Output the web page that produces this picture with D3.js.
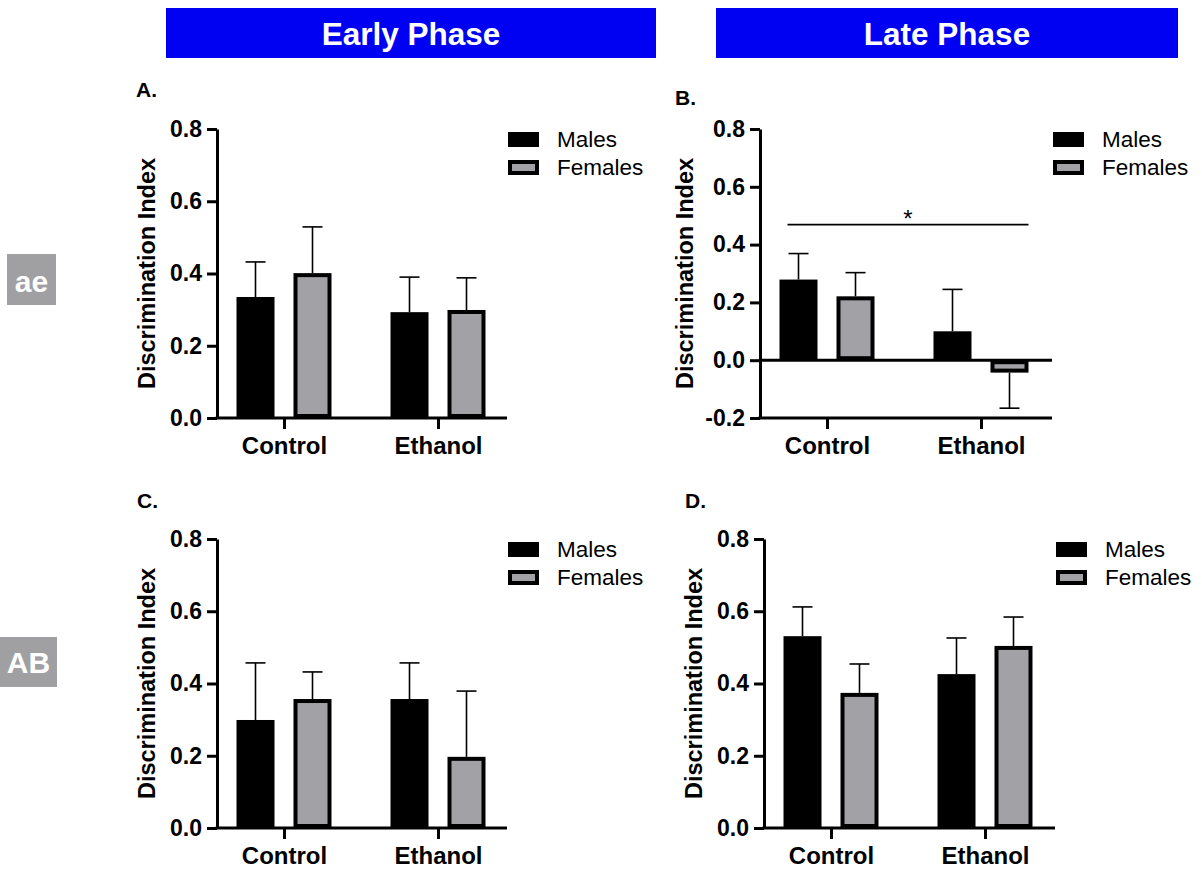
<!DOCTYPE html>
<html>
<head>
<meta charset="utf-8">
<script src="https://cdn.jsdelivr.net/npm/d3@7"></script>
<style>
  body { margin: 0; background: #fff; }
  svg { display: block; font-family: "Liberation Sans", Arial, sans-serif; }
</style>
</head>
<body>
<svg id="fig" width="1202" height="871"></svg>
<script>
const groups = ['Control', 'Ethanol'];
const sexes = ['Males', 'Females'];
const phases = ['Early Phase', 'Late Phase'];
const rowLabels = ['ae', 'AB'];

// order: Control Males, Control Females, Ethanol Males, Ethanol Females
const earlyAeMean = [0.335, 0.401, 0.293, 0.299];
const earlyAeSem  = [0.097, 0.128, 0.097, 0.089];
const lateAeMean  = [0.279, 0.221, 0.100, -0.043];
const lateAeSem   = [0.090, 0.082, 0.145, 0.123];
const earlyABMean = [0.299, 0.357, 0.357, 0.197];
const earlyABSem  = [0.158, 0.075, 0.100, 0.182];
const lateABMean  = [0.531, 0.374, 0.426, 0.504];
const lateABSem   = [0.081, 0.080, 0.100, 0.080];

const ticksPos = [0, 0.2, 0.4, 0.6, 0.8];
const ticksNeg = [-0.2, 0, 0.2, 0.4, 0.6, 0.8];

const fill = { Males: '#000', Females: '#a2a2a6' };

const svg = d3.select('#fig');

// phase headers
const headers = [
    { x: 166, w: 490 },
    { x: 716, w: 462 }
];
headers.forEach((hd, i) => {
    svg.append('rect').attr('x', hd.x).attr('y', 8).attr('width', hd.w).attr('height', 50)
        .attr('fill', '#0000f2');
    svg.append('text').attr('x', hd.x + hd.w / 2).attr('y', 45)
        .attr('text-anchor', 'middle').attr('fill', '#fff')
        .attr('font-size', 31.5).attr('font-weight', 'bold')
        .text(phases[i]);
});

// row labels
const rowBoxes = [
    { x: 7, y: 254, w: 49, h: 51, base: 292 },
    { x: 0, y: 637, w: 57, h: 50, base: 673 }
];
rowBoxes.forEach((b, i) => {
    svg.append('rect').attr('x', b.x).attr('y', b.y).attr('width', b.w).attr('height', b.h)
        .attr('fill', '#a0a0a3');
    svg.append('text').attr('x', b.x + b.w / 2).attr('y', b.base)
        .attr('text-anchor', 'middle').attr('fill', '#fff')
        .attr('font-size', 30).attr('font-weight', 'bold')
        .text(rowLabels[i]);
});

function drawPanel(o) {
    const g = svg.append('g');
    const y = d3.scaleLinear().domain(o.domain).range([o.yBot, o.yTop]);
    const x = d3.scalePoint().domain(groups).range([o.x0 + 67, o.x0 + 221]);
    const xSex = d3.scaleBand().domain(sexes).range([-47.5, 47.5]).paddingInner(1 / 3);
    const bw = xSex.bandwidth();

    const rows = o.means.map((m, i) => ({
        group: groups[Math.floor(i / 2)],
        sex: sexes[i % 2],
        mean: m,
        sem: o.sems[i]
    }));
    const errEnd = d => y(d.mean + (d.mean < 0 ? -d.sem : d.sem));

    // error bars (drawn first so the bar covers the stem)
    const err = g.selectAll('.err').data(rows).join('g')
        .attr('class', 'err')
        .attr('transform', d => `translate(${x(d.group) + xSex(d.sex) + bw / 2},0)`);
    err.append('line')
        .attr('y1', d => y(d.mean)).attr('y2', errEnd)
        .attr('stroke', '#000').attr('stroke-width', 1.6);
    err.append('line')
        .attr('x1', -10).attr('x2', 10)
        .attr('y1', errEnd).attr('y2', errEnd)
        .attr('stroke', '#000').attr('stroke-width', 1.6);

    g.selectAll('.bar').data(rows).join('rect')
        .attr('class', 'bar')
        .attr('x', d => x(d.group) + xSex(d.sex) + 2)
        .attr('width', bw - 4)
        .attr('y', d => Math.min(y(d.mean), y(0)) + 2)
        .attr('height', d => Math.max(0, Math.abs(y(d.mean) - y(0)) - 4))
        .attr('fill', d => fill[d.sex])
        .attr('stroke', '#000').attr('stroke-width', 4);

    // y axis
    g.append('g').attr('transform', `translate(${o.x0},0)`)
        .call(d3.axisLeft(y).tickValues(o.ticks).tickFormat(d => d.toFixed(1))
            .tickSize(10).tickSizeOuter(0).tickPadding(5))
        .call(a => {
            a.select('.domain').attr('stroke-width', 3);
            a.selectAll('.tick line').attr('stroke-width', 3);
            a.selectAll('.tick text').attr('font-size', 23).attr('font-weight', 'bold')
                .attr('fill', '#000').attr('font-family', null);
        });

    // x axis at the bottom of the y range
    const xa = g.append('g').attr('transform', `translate(0,${o.yBot})`)
        .call(d3.axisBottom(x).tickSize(11).tickSizeOuter(0).tickPadding(8))
        .call(a => {
            a.select('.domain').remove();
            a.selectAll('.tick line').attr('stroke-width', 3);
            a.selectAll('.tick text').attr('font-size', 24).attr('font-weight', 'bold')
                .attr('fill', '#000').attr('font-family', null);
        });
    xa.append('line').attr('x1', o.x0 - 1.5).attr('x2', o.x0 + o.width)
        .attr('stroke', '#000').attr('stroke-width', 3);

    if (o.domain[0] < 0) {
        g.append('line').attr('x1', o.x0).attr('x2', o.x0 + o.width)
            .attr('y1', y(0)).attr('y2', y(0))
            .attr('stroke', '#000').attr('stroke-width', 3);
    }

    if (o.sig) {
        const x1 = x(o.sig.from) + xSex('Males') + 8;
        const x2 = x(o.sig.to) + xSex('Females') + bw;
        const sy = y(o.sig.level);
        g.append('line').attr('x1', x1).attr('x2', x2).attr('y1', sy).attr('y2', sy)
            .attr('stroke', '#000').attr('stroke-width', 1.6);
        g.append('text').attr('x', (x1 + x2) / 2).attr('y', sy + 2)
            .attr('text-anchor', 'middle').attr('font-size', 24)
            .text(o.sig.label);
    }

    // y title
    g.append('text')
        .attr('transform', `translate(${o.x0 - o.titleOffset},${(o.yTop + o.yBot) / 2}) rotate(-90)`)
        .attr('text-anchor', 'middle').attr('font-size', 23.5).attr('font-weight', 'bold')
        .text('Discrimination Index');

    // panel letter
    g.append('text').attr('x', o.letterX).attr('y', o.letterY)
        .attr('font-size', 21).attr('font-weight', 'bold')
        .text(o.letter);

    // legend
    const lx = o.x0 + o.width + 1;
    const leg = g.selectAll('.leg').data(sexes).join('g')
        .attr('class', 'leg')
        .attr('transform', (d, i) => `translate(${lx},${o.yTop + 3 + i * 28})`);
    leg.append('rect').attr('x', 2).attr('y', 2).attr('width', 27).attr('height', 11)
        .attr('fill', d => fill[d]).attr('stroke', '#000').attr('stroke-width', 4);
    leg.append('text').attr('x', 49).attr('y', 15)
        .attr('font-size', 22.5)
        .text(d => d);
}

drawPanel({ letter: 'A.', letterX: 136, letterY: 97, x0: 217, yTop: 129, yBot: 418, width: 290,
    domain: [0, 0.8], ticks: ticksPos, means: earlyAeMean, sems: earlyAeSem, titleOffset: 62 });
drawPanel({ letter: 'B.', letterX: 675, letterY: 105, x0: 760, yTop: 129, yBot: 418, width: 292,
    domain: [-0.2, 0.8], ticks: ticksNeg, means: lateAeMean, sems: lateAeSem, titleOffset: 67,
    sig: { from: 'Control', to: 'Ethanol', level: 0.469, label: '*' } });
drawPanel({ letter: 'C.', letterX: 137, letterY: 508, x0: 217, yTop: 539, yBot: 828, width: 290,
    domain: [0, 0.8], ticks: ticksPos, means: earlyABMean, sems: earlyABSem, titleOffset: 62 });
drawPanel({ letter: 'D.', letterX: 685, letterY: 508, x0: 764, yTop: 539, yBot: 828, width: 291,
    domain: [0, 0.8], ticks: ticksPos, means: lateABMean, sems: lateABSem, titleOffset: 62 });
</script>
</body>
</html>
